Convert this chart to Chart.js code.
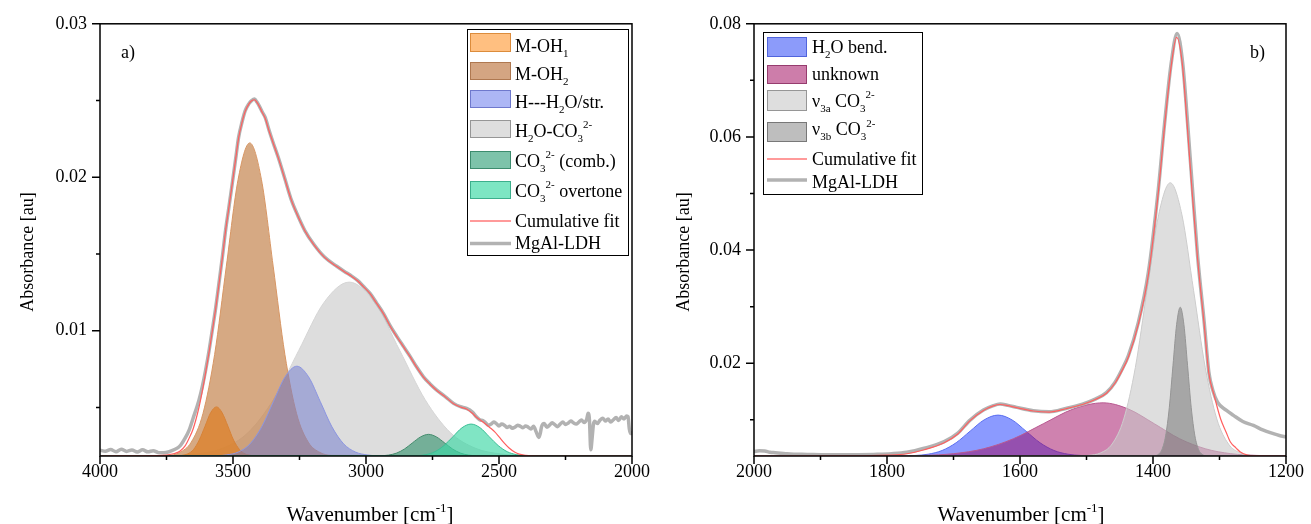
<!DOCTYPE html>
<html lang="en">
<head>
<meta charset="UTF-8">
<title>MgAl-LDH IR band fit</title>
<script src="https://cdn.jsdelivr.net/npm/chart.js"></script>
<style>
  body { margin: 0; background: #fff; }
  .panel { position: absolute; top: 0; width: 655px; height: 524px; }
</style>
</head>
<body>
<div class="panel" style="left:0"><canvas id="chartA"></canvas></div>
<div class="panel" style="left:654px"><canvas id="chartB"></canvas></div>
<script>
// ---------- panel a) : OH stretching region ----------
const xTicksA = [4000, 3500, 3000, 2500, 2000];
const xMinorA = [3750, 3250, 2750, 2250];
const yTicksA = [0.01, 0.02, 0.03];
const yMinorA = [0.005, 0.015, 0.025];

const mOH1X = [4000, 3712, 3691, 3670, 3648, 3627, 3605, 3584, 3562, 3541, 3519, 3498, 3476, 3455, 3433, 3412, 2000];
const mOH1Y = [0.00184, 0.00185, 0.00188, 0.00198, 0.00227, 0.00288, 0.00378, 0.00466, 0.00504, 0.00466, 0.00378, 0.00288, 0.00227, 0.00198, 0.00188, 0.00185, 0.00184];

const mOH2X = [4000, 3745, 3701, 3657, 3613, 3569, 3525, 3481, 3437, 3393, 3349, 3305, 3261, 3217, 3173, 3129, 2000];
const mOH2Y = [0.00184, 0.00188, 0.00207, 0.00274, 0.00460, 0.00846, 0.01421, 0.01984, 0.02224, 0.01984, 0.01421, 0.00846, 0.00460, 0.00274, 0.00207, 0.00188, 0.00184];

const hStrX = [4000, 3568, 3524, 3480, 3436, 3392, 3348, 3304, 3260, 3216, 3172, 3128, 3084, 3040, 2996, 2952, 2000];
const hStrY = [0.00184, 0.00185, 0.00191, 0.00210, 0.00263, 0.00374, 0.00539, 0.00700, 0.00769, 0.00700, 0.00539, 0.00374, 0.00263, 0.00210, 0.00191, 0.00185, 0.00184];

const h2oCo3X = [4000, 3728, 3633, 3538, 3443, 3348, 3253, 3158, 3063, 2968, 2873, 2778, 2683, 2588, 2493, 2398, 2000];
const h2oCo3Y = [0.00184, 0.00187, 0.00197, 0.00234, 0.00337, 0.00552, 0.00871, 0.01184, 0.01317, 0.01184, 0.00871, 0.00552, 0.00337, 0.00234, 0.00197, 0.00187, 0.00184];

const combX = [4000, 2945, 2915, 2885, 2855, 2825, 2795, 2765, 2735, 2705, 2675, 2645, 2615, 2585, 2000];
const combY = [0.00184, 0.00186, 0.00190, 0.00203, 0.00230, 0.00270, 0.00308, 0.00325, 0.00308, 0.00270, 0.00230, 0.00203, 0.00190, 0.00186, 0.00184];

const overX = [4000, 2809, 2775, 2741, 2707, 2673, 2639, 2605, 2571, 2537, 2503, 2469, 2435, 2401, 2000];
const overY = [0.00184, 0.00186, 0.00193, 0.00212, 0.00252, 0.00310, 0.00368, 0.00392, 0.00368, 0.00310, 0.00252, 0.00212, 0.00193, 0.00186, 0.00184];

const fitAX = [4000, 3850, 3800, 3750, 3720, 3700, 3680, 3665, 3650, 3628, 3615, 3603, 3590, 3578, 3565, 3553, 3540, 3528, 3515, 3503,
  3490, 3479, 3466, 3454, 3440, 3430, 3419, 3410, 3400, 3390, 3379, 3365, 3350, 3330, 3305, 3280, 3255, 3230, 3195, 3156,
  3110, 3080, 3057, 3032, 3010, 2984, 2960, 2934, 2910, 2883, 2858, 2833, 2810, 2784, 2760, 2734, 2700, 2671, 2645, 2622,
  2600, 2585, 2560, 2535, 2515, 2498, 2480, 2462, 2440, 2424, 2400, 2380, 2300, 2000];
const fitAY = [0.00184, 0.00185, 0.00186, 0.00190, 0.00200, 0.00215, 0.00250, 0.00300, 0.00360, 0.00500, 0.00610, 0.00725, 0.00860, 0.00995, 0.01145, 0.01300, 0.01475, 0.01650, 0.01808, 0.01955,
  0.02118, 0.02255, 0.02358, 0.02430, 0.02478, 0.02498, 0.02505, 0.02488, 0.02458, 0.02422, 0.02385, 0.02305, 0.02228, 0.02128, 0.01988, 0.01848, 0.01743, 0.01652, 0.01558, 0.01478,
  0.01418, 0.01383, 0.01358, 0.01326, 0.01288, 0.01240, 0.01178, 0.01110, 0.01033, 0.00958, 0.00893, 0.00828, 0.00763, 0.00698, 0.00653, 0.00611, 0.00566, 0.00525, 0.00503, 0.00490,
  0.00462, 0.00437, 0.00405, 0.00370, 0.00340, 0.00305, 0.00268, 0.00236, 0.00208, 0.00196, 0.00188, 0.00185, 0.00184, 0.00184];

const ldhAX = [4000, 3980, 3960, 3940, 3920, 3900, 3880, 3860, 3840, 3820, 3800, 3780, 3760, 3740, 3720, 3700, 3680, 3665, 3650, 3628,
  3615, 3603, 3590, 3578, 3565, 3553, 3540, 3528, 3515, 3503, 3490, 3479, 3466, 3454, 3440, 3430, 3419, 3410, 3400, 3390,
  3379, 3365, 3350, 3330, 3305, 3280, 3255, 3230, 3195, 3156, 3110, 3080, 3057, 3032, 3010, 2984, 2960, 2934, 2910, 2883,
  2858, 2833, 2810, 2784, 2760, 2734, 2700, 2671, 2645, 2622, 2600, 2585, 2570, 2560, 2550, 2540, 2530, 2520, 2510, 2500,
  2490, 2480, 2470, 2460, 2450, 2440, 2430, 2420, 2410, 2400, 2390, 2380, 2370, 2360, 2350, 2345, 2340, 2330, 2320, 2310,
  2300, 2290, 2280, 2270, 2260, 2250, 2240, 2230, 2220, 2210, 2200, 2190, 2180, 2170, 2165, 2160, 2155, 2150, 2145, 2140,
  2130, 2120, 2110, 2100, 2090, 2080, 2070, 2060, 2050, 2040, 2030, 2020, 2015, 2010, 2005, 2000];
const ldhAY = [0.00222, 0.00215, 0.00226, 0.00212, 0.00228, 0.00214, 0.00223, 0.00210, 0.00224, 0.00211, 0.00219, 0.00206, 0.00205, 0.00212, 0.00226, 0.00248, 0.00300, 0.00353, 0.00430, 0.00548,
  0.00640, 0.00743, 0.00870, 0.01003, 0.01150, 0.01307, 0.01480, 0.01653, 0.01810, 0.01957, 0.02120, 0.02260, 0.02360, 0.02434, 0.02480, 0.02500, 0.02510, 0.02490, 0.02460, 0.02425,
  0.02390, 0.02310, 0.02230, 0.02130, 0.01990, 0.01849, 0.01745, 0.01653, 0.01560, 0.01480, 0.01420, 0.01385, 0.01360, 0.01328, 0.01290, 0.01242, 0.01180, 0.01112, 0.01035, 0.00960,
  0.00895, 0.00830, 0.00765, 0.00700, 0.00655, 0.00613, 0.00568, 0.00527, 0.00505, 0.00494, 0.00470, 0.00440, 0.00418, 0.00415, 0.00400, 0.00385, 0.00392, 0.00405, 0.00395, 0.00380,
  0.00392, 0.00385, 0.00370, 0.00378, 0.00365, 0.00372, 0.00385, 0.00378, 0.00368, 0.00380, 0.00372, 0.00360, 0.00378, 0.00340, 0.00305, 0.00330, 0.00375, 0.00395, 0.00372, 0.00385,
  0.00400, 0.00388, 0.00375, 0.00392, 0.00405, 0.00390, 0.00398, 0.00412, 0.00400, 0.00392, 0.00405, 0.00418, 0.00402, 0.00425, 0.00462, 0.00420, 0.00225, 0.00300, 0.00390, 0.00410,
  0.00395, 0.00418, 0.00430, 0.00412, 0.00425, 0.00405, 0.00420, 0.00435, 0.00415, 0.00440, 0.00425, 0.00445, 0.00440, 0.00360, 0.00330, 0.00345];

// ---------- panel b) : carbonate / bending region ----------
const xTicksB = [2000, 1800, 1600, 1400, 1200];
const xMinorB = [1900, 1700, 1500, 1300];
const yTicksB = [0.02, 0.04, 0.06, 0.08];
const yMinorB = [0.01, 0.03, 0.05, 0.07];

const bendX = [2000, 1780, 1759, 1738, 1717, 1696, 1675, 1654, 1633, 1612, 1591, 1570, 1549, 1528, 1507, 1486, 1200];
const bendY = [0.0036, 0.00362, 0.00368, 0.00392, 0.00458, 0.00595, 0.00799, 0.00998, 0.01083, 0.00998, 0.00799, 0.00595, 0.00458, 0.00392, 0.00368, 0.00362, 0.0036];

const unkX = [2000, 1790, 1745, 1700, 1655, 1610, 1565, 1520, 1475, 1437, 1398, 1360, 1321, 1283, 1244, 1210, 1200];
const unkY = [0.0036, 0.00362, 0.00370, 0.00401, 0.00487, 0.00665, 0.00930, 0.01190, 0.01300, 0.01190, 0.00930, 0.00665, 0.00487, 0.00401, 0.00370, 0.00362, 0.0036];

const v3aX = [2000, 1514, 1496.5, 1479, 1461.5, 1444, 1426.5, 1409, 1391.5, 1374, 1356.5, 1339, 1321.5, 1304, 1286.5, 1269, 1251.5, 1234, 1200];
const v3aY = [0.0036, 0.00361, 0.00371, 0.00414, 0.00572, 0.01014, 0.01928, 0.03289, 0.04623, 0.05190, 0.04623, 0.03289, 0.01928, 0.01014, 0.00572, 0.00414, 0.00371, 0.00361, 0.0036];

const v3bX = [2000, 1397.5, 1392, 1386.5, 1381, 1375.5, 1370, 1364.5, 1359, 1353.5, 1348, 1342.5, 1337, 1331.5, 1326, 1320.5, 1200];
const v3bY = [0.0036, 0.00366, 0.00389, 0.00476, 0.00716, 0.01214, 0.01955, 0.02681, 0.02990, 0.02681, 0.01955, 0.01214, 0.00716, 0.00476, 0.00389, 0.00366, 0.0036];

const fitBX = [2000, 1850, 1800, 1770, 1744, 1714, 1694, 1675, 1655, 1640, 1630, 1618, 1605, 1580, 1556, 1531, 1506, 1486, 1470, 1457,
  1447, 1437, 1422, 1407, 1392, 1382.5, 1372.6, 1364.5, 1356, 1348.5, 1341, 1333, 1323, 1316, 1308, 1298.4, 1290, 1283.6, 1275, 1268.7,
  1258, 1249, 1200];
const fitBY = [0.0036, 0.00362, 0.00375, 0.00400, 0.00470, 0.00595, 0.00745, 0.00985, 0.01165, 0.01245, 0.01270, 0.01250, 0.01215, 0.01155, 0.01137, 0.01195, 0.01270, 0.01362, 0.01470, 0.01650,
  0.01860, 0.02110, 0.02690, 0.03560, 0.05020, 0.06200, 0.07260, 0.07760, 0.07300, 0.06200, 0.05000, 0.03850, 0.02680, 0.01820, 0.01430, 0.01018, 0.00780, 0.00607, 0.00500, 0.00431,
  0.00375, 0.00362, 0.0036];

const ldhBX = [2000, 1992, 1984, 1976, 1968, 1960, 1950, 1940, 1920, 1900, 1870, 1843, 1820, 1793, 1770, 1744, 1714, 1694, 1675, 1655,
  1640, 1630, 1618, 1605, 1580, 1556, 1531, 1506, 1486, 1470, 1457, 1447, 1437, 1422, 1407, 1392, 1382.5, 1372.6, 1363.7, 1355.4,
  1348, 1340.6, 1333, 1323, 1316, 1310, 1303, 1290, 1279, 1265, 1249, 1235, 1219, 1210, 1200];
const ldhBY = [0.00440, 0.00452, 0.00448, 0.00425, 0.00418, 0.00410, 0.00398, 0.00392, 0.00388, 0.00382, 0.00380, 0.00382, 0.00388, 0.00400, 0.00425, 0.00496, 0.00613, 0.00760, 0.00995, 0.01171,
  0.01250, 0.01277, 0.01255, 0.01219, 0.01159, 0.01141, 0.01201, 0.01277, 0.01370, 0.01480, 0.01665, 0.01880, 0.02136, 0.02723, 0.03604, 0.05073, 0.06249, 0.07307, 0.07830, 0.07307,
  0.06249, 0.05073, 0.03900, 0.02723, 0.01841, 0.01520, 0.01312, 0.01170, 0.01078, 0.00970, 0.00900, 0.00820, 0.00754, 0.00722, 0.00695];

const FONT = "'Liberation Serif', 'Times New Roman', serif";

function pts(xs, ys) {
  return xs.map((x, i) => ({ x: x, y: ys[i] }));
}

// text with _{sub} and ^{sup}
function parseRich(str) {
  const out = [];
  const re = /([_^])\{([^}]*)\}/g;
  let last = 0, m;
  while ((m = re.exec(str))) {
    if (m.index > last) out.push({ t: str.slice(last, m.index), k: '' });
    out.push({ t: m[2], k: m[1] });
    last = re.lastIndex;
  }
  if (last < str.length) out.push({ t: str.slice(last), k: '' });
  return out;
}

function drawRich(ctx, str, x, y, size, align) {
  const parts = parseRich(str);
  const small = Math.round(size * 0.6);
  let w = 0;
  parts.forEach(p => {
    ctx.font = (p.k ? small : size) + 'px ' + FONT;
    p.w = ctx.measureText(p.t).width;
    w += p.w;
  });
  let cx = align === 'center' ? x - w / 2 : x;
  ctx.textAlign = 'left';
  ctx.textBaseline = 'alphabetic';
  ctx.fillStyle = '#000';
  parts.forEach(p => {
    ctx.font = (p.k ? small : size) + 'px ' + FONT;
    const dy = p.k === '_' ? size * 0.28 : (p.k === '^' ? -size * 0.45 : 0);
    ctx.fillText(p.t, cx, y + dy);
    cx += p.w;
  });
}

function decorPlugin(d) {
  return {
    id: 'decor',
    afterDraw(chart) {
      const ctx = chart.ctx;
      const a = chart.chartArea;
      const sx = chart.scales.x, sy = chart.scales.y;
      ctx.save();
      // frame
      ctx.strokeStyle = '#000';
      ctx.lineWidth = 1.5;
      ctx.strokeRect(a.left, a.top, a.right - a.left, a.bottom - a.top);
      // ticks
      ctx.beginPath();
      d.xMajor.forEach(v => { const p = sx.getPixelForValue(v); ctx.moveTo(p, a.bottom); ctx.lineTo(p, a.bottom + 8); });
      d.xMinor.forEach(v => { const p = sx.getPixelForValue(v); ctx.moveTo(p, a.bottom); ctx.lineTo(p, a.bottom + 4); });
      d.yMajor.forEach(v => { const p = sy.getPixelForValue(v); ctx.moveTo(a.left - 8, p); ctx.lineTo(a.left, p); });
      d.yMinor.forEach(v => { const p = sy.getPixelForValue(v); ctx.moveTo(a.left - 4, p); ctx.lineTo(a.left, p); });
      ctx.stroke();
      // axis titles
      drawRich(ctx, 'Wavenumber [cm^{-1}]', d.xTitleX, 521, 21, 'center');
      ctx.save();
      ctx.translate(d.yTitleX, 252);
      ctx.rotate(-Math.PI / 2);
      drawRich(ctx, 'Absorbance [au]', 0, 0, 18, 'center');
      ctx.restore();
      // panel label
      drawRich(ctx, d.tag, d.tagX, 58, 18, 'left');
      // legend
      const L = d.legend;
      ctx.fillStyle = '#fff';
      ctx.fillRect(L.box[0], L.box[1], L.box[2] - L.box[0], L.box[3] - L.box[1]);
      ctx.strokeStyle = '#000';
      ctx.lineWidth = 1;
      ctx.strokeRect(L.box[0] + 0.5, L.box[1] + 0.5, L.box[2] - L.box[0], L.box[3] - L.box[1]);
      L.items.forEach(it => {
        if (it.fill) {
          ctx.fillStyle = it.fill;
          ctx.fillRect(L.sx0, it.top, L.sx1 - L.sx0, it.h);
          ctx.strokeStyle = it.stroke;
          ctx.lineWidth = 1;
          ctx.strokeRect(L.sx0 + 0.5, it.top + 0.5, L.sx1 - L.sx0 - 1, it.h - 1);
        } else {
          ctx.strokeStyle = it.line;
          ctx.lineWidth = it.lw;
          ctx.beginPath();
          ctx.moveTo(L.sx0, it.top);
          ctx.lineTo(L.sx1, it.top);
          ctx.stroke();
        }
        drawRich(ctx, it.text, L.tx, it.base, 18, 'left');
      });
      ctx.restore();
    }
  };
}

function area(label, xs, ys, fill, line, order) {
  return {
    label: label, data: pts(xs, ys), fill: 'start', backgroundColor: fill,
    borderColor: line, borderWidth: 1, pointRadius: 0, cubicInterpolationMode: 'monotone', order: order
  };
}
function curve(label, xs, ys, color, width, order) {
  return {
    label: label, data: pts(xs, ys), fill: false, borderColor: color,
    borderWidth: width, pointRadius: 0, cubicInterpolationMode: 'monotone', order: order
  };
}

function makeOptions(xMin, xMax, yMin, yMax, xT, yT, padRight) {
  return {
    responsive: true,
    maintainAspectRatio: false,
    animation: false,
    events: [],
    layout: { padding: { left: 0, right: padRight, top: 22, bottom: 0 } },
    plugins: { legend: { display: false }, tooltip: { enabled: false } },
    scales: {
      x: {
        type: 'linear', reverse: true, min: xMin, max: xMax,
        grid: { display: false, drawTicks: false }, border: { display: false },
        afterBuildTicks: s => { s.ticks = xT.map(v => ({ value: v })); },
        afterFit: s => { s.height = 68; },
        ticks: { font: { family: FONT, size: 18 }, color: '#000', padding: 5, maxRotation: 0, callback: v => String(v) }
      },
      y: {
        min: yMin, max: yMax,
        grid: { display: false, drawTicks: false }, border: { display: false },
        afterBuildTicks: s => { s.ticks = yT.map(v => ({ value: v })); },
        afterFit: s => { s.width = 100; },
        ticks: { font: { family: FONT, size: 18 }, color: '#000', padding: 13, callback: v => v.toFixed(2) }
      }
    }
  };
}

new Chart(document.getElementById('chartA'), {
  type: 'line',
  data: {
    datasets: [
      curve('Cumulative fit', fitAX, fitAY, 'rgb(255,95,95)', 1.2, 0),
      curve('MgAl-LDH', ldhAX, ldhAY, 'rgb(178,178,178)', 3.5, 1),
      area('CO3 overtone', overX, overY, 'rgba(60,215,165,0.65)', 'rgb(60,190,150)', 2),
      area('CO3 (comb.)', combX, combY, 'rgba(60,150,115,0.65)', 'rgb(70,140,110)', 3),
      area('H---H2O/str.', hStrX, hStrY, 'rgba(110,120,205,0.5)', 'rgb(140,150,225)', 4),
      area('M-OH1', mOH1X, mOH1Y, 'rgba(220,128,40,0.75)', 'rgb(215,130,55)', 5),
      area('M-OH2', mOH2X, mOH2Y, 'rgba(200,140,90,0.75)', 'rgb(215,150,100)', 6),
      area('H2O-CO3', h2oCo3X, h2oCo3Y, 'rgb(221,221,221)', 'rgb(214,214,214)', 7)
    ]
  },
  options: makeOptions(2000, 4000, 0.00184, 0.03, xTicksA, yTicksA, 18),
  plugins: [decorPlugin({
    xMajor: xTicksA, xMinor: xMinorA, yMajor: yTicksA, yMinor: yMinorA,
    xTitleX: 370, yTitleX: 33, tag: 'a)', tagX: 121,
    legend: {
      box: [467, 29, 628, 255], sx0: 470, sx1: 511, tx: 515,
      items: [
        { text: 'M-OH_{1}', top: 33, h: 19, base: 51.5, fill: 'rgb(255,191,128)', stroke: 'rgb(220,140,60)' },
        { text: 'M-OH_{2}', top: 62, h: 18, base: 80, fill: 'rgb(212,165,130)', stroke: 'rgb(175,120,80)' },
        { text: 'H---H_{2}O/str.', top: 90, h: 18, base: 107.5, fill: 'rgb(172,182,245)', stroke: 'rgb(110,120,205)' },
        { text: 'H_{2}O-CO_{3}^{2-}', top: 120, h: 18, base: 136.5, fill: 'rgb(222,222,222)', stroke: 'rgb(150,150,150)' },
        { text: 'CO_{3}^{2-} (comb.)', top: 151, h: 18, base: 166.5, fill: 'rgb(125,195,170)', stroke: 'rgb(60,140,110)' },
        { text: 'CO_{3}^{2-} overtone', top: 181, h: 18, base: 196.5, fill: 'rgb(125,230,195)', stroke: 'rgb(60,175,140)' },
        { text: 'Cumulative fit', top: 221, base: 226.5, line: 'rgb(255,120,120)', lw: 1.5 },
        { text: 'MgAl-LDH', top: 243.5, base: 248.5, line: 'rgb(178,178,178)', lw: 3.5 }
      ]
    }
  })]
});

new Chart(document.getElementById('chartB'), {
  type: 'line',
  data: {
    datasets: [
      curve('Cumulative fit', fitBX, fitBY, 'rgb(255,95,95)', 1.2, 0),
      curve('MgAl-LDH', ldhBX, ldhBY, 'rgb(178,178,178)', 3.5, 1),
      area('v3b CO3', v3bX, v3bY, 'rgba(110,110,110,0.5)', 'rgb(150,150,150)', 2),
      area('v3a CO3', v3aX, v3aY, 'rgba(200,200,200,0.6)', 'rgb(205,205,205)', 3),
      area('unknown', unkX, unkY, 'rgba(160,5,95,0.5)', 'rgb(185,90,145)', 4),
      area('H2O bend.', bendX, bendY, 'rgba(100,120,255,0.75)', 'rgb(90,110,240)', 5)
    ]
  },
  options: makeOptions(1200, 2000, 0.0036, 0.08, xTicksB, yTicksB, 16),
  plugins: [decorPlugin({
    xMajor: xTicksB, xMinor: xMinorB, yMajor: yTicksB, yMinor: yMinorB,
    xTitleX: 367, yTitleX: 35, tag: 'b)', tagX: 596,
    legend: {
      box: [109, 32, 268, 194], sx0: 113, sx1: 153, tx: 158,
      items: [
        { text: 'H_{2}O bend.', top: 37, h: 20, base: 53, fill: 'rgb(140,155,250)', stroke: 'rgb(80,100,220)' },
        { text: 'unknown', top: 65, h: 19, base: 80, fill: 'rgb(205,125,170)', stroke: 'rgb(150,60,110)' },
        { text: '\u03bd_{3a} CO_{3}^{2-}', top: 90, h: 21, base: 106.5, fill: 'rgb(222,222,222)', stroke: 'rgb(150,150,150)' },
        { text: '\u03bd_{3b} CO_{3}^{2-}', top: 122, h: 20, base: 135, fill: 'rgb(190,190,190)', stroke: 'rgb(120,120,120)' },
        { text: 'Cumulative fit', top: 159, base: 165, line: 'rgb(255,120,120)', lw: 1.5 },
        { text: 'MgAl-LDH', top: 180, base: 188, line: 'rgb(178,178,178)', lw: 3.5 }
      ]
    }
  })]
});
</script>
</body>
</html>
